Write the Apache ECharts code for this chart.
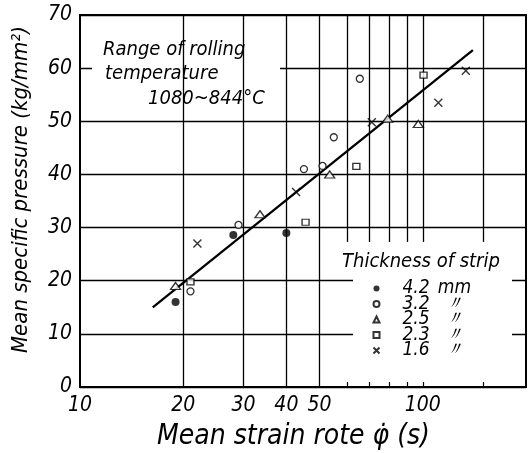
<!DOCTYPE html>
<html><head><meta charset="utf-8">
<script src="https://cdn.jsdelivr.net/npm/echarts@6/dist/echarts.min.js"></script>
<style>html,body{margin:0;padding:0;background:#fff}#c{width:529px;height:453px}</style>
</head><body><div id="c"></div>
<script>
// ---- data ----
const xLabelValues = [10, 20, 30, 40, 50, 100];
const xMinorTickValues = [60, 70, 80, 90, 100, 150];
const fullGridX = [20, 30, 40, 50];
const partialGridX = [60, 70, 80, 90, 100, 150];
const partialGridFromY = 27.3;
const yMin = 0, yMax = 70, yStep = 10;
const xMin = 10, xMax = 200;

const names = ['4.2', '3.2', '2.5', '2.3', '1.6'];
const s42 = [[19, 16], [28, 28.6], [40, 29]];
const s32 = [[21, 18], [29, 30.5], [45, 41], [51, 41.6], [55, 47], [65.5, 58]];
const s25 = [[19, 19], [33.5, 32.5], [53.5, 40], [79, 50.5], [97, 49.5]];
const s23 = [[21, 19.8], [45.5, 31], [64, 41.5], [100.5, 58.7]];
const s16 = [[22, 27], [42.7, 36.7], [71, 49.8], [111, 53.5], [133.5, 59.5]];
const fitLine = [[16.3, 15], [140, 63.4]];

const boxLines = ['Range of rolling', 'temperature', '1080~844°C'];
const legendTitle = 'Thickness of strip';
const xTitle = 'Mean strain rote φ\u0307 (s)';
const yTitle = 'Mean specific pressure (kg/mm²)';

// ---- chart ----
const FONT = '"DejaVu Sans Condensed", "DejaVu Sans", sans-serif';
const chart = echarts.init(document.getElementById('c'), null, {renderer: 'canvas'});

const gridMarks = fullGridX.map(v => ({xAxis: v}))
  .concat(partialGridX.map(v => [{coord: [v, yMax]}, {coord: [v, partialGridFromY]}]));

const openStyle = {color: '#fff', borderColor: '#000', borderWidth: 1.3};
const xPath = 'path://M0,0L10,10M10,0L0,10';
const richBase = {fontSize: 19, fontStyle: 'italic', fontFamily: FONT, lineHeight: 15, color: '#000'};

const option = {
  animation: false,
  backgroundColor: '#fff',
  grid: {left: 80, right: 3, top: 15, bottom: 66, show: true, borderColor: '#000', borderWidth: 2, backgroundColor: 'transparent'},
  xAxis: {
    type: 'log', logBase: 10, min: xMin, max: xMax,
    axisLine: {show: true, lineStyle: {color: '#000', width: 2}},
    axisTick: {show: true, inside: true, length: 5, customValues: xMinorTickValues, lineStyle: {color: '#000', width: 1.2}},
    axisLabel: {show: true, customValues: xLabelValues, color: '#000', fontSize: 21, fontStyle: 'italic', fontFamily: FONT, margin: 8},
    splitLine: {show: false}, minorTick: {show: false}, minorSplitLine: {show: false}
  },
  yAxis: {
    type: 'value', min: yMin, max: yMax, interval: yStep,
    axisLine: {show: true, lineStyle: {color: '#000', width: 2}},
    axisTick: {show: false},
    axisLabel: {color: '#000', fontSize: 21, fontStyle: 'italic', fontFamily: FONT, margin: 8},
    splitLine: {show: true, lineStyle: {color: '#000', width: 1.3}}
  },
  legend: {
    orient: 'vertical', left: 366, top: 274, itemWidth: 6, itemHeight: 6, itemGap: -3.5, z: 20,
    data: names, selectedMode: false,
    formatter: n => (n === '4.2' ? '{s|}{n|' + n + '}{u|mm}' : '{s|}{n|' + n + '}{u|〃}'),
    textStyle: Object.assign({}, richBase, {
      rich: {s: Object.assign({width: 18}, richBase), n: Object.assign({width: 37}, richBase),
             u: Object.assign({width: 30, align: 'center'}, richBase)}})
  },
  graphic: [
    {type: 'rect', z: 5, shape: {x: 92, y: 27, width: 188, height: 85}, style: {fill: '#fff'}},
    {type: 'rect', z: 5, shape: {x: 353, y: 243, width: 159, height: 138}, style: {fill: '#fff'}},
    {type: 'text', z: 30, left: 103, top: 40, style: {text: boxLines[0], fill: '#000', font: 'italic 20px ' + FONT}},
    {type: 'text', z: 30, left: 105, top: 64, style: {text: boxLines[1], fill: '#000', font: 'italic 20px ' + FONT}},
    {type: 'text', z: 30, left: 148, top: 89, style: {text: boxLines[2], fill: '#000', font: 'italic 20px ' + FONT}},
    {type: 'text', z: 30, left: 342, top: 252, style: {text: legendTitle, fill: '#000', font: 'italic 20px ' + FONT}},
    {type: 'text', z: 30, left: 157, top: 423, style: {text: xTitle, fill: '#000', font: 'italic 28px ' + FONT}},
    {type: 'text', z: 30, x: 10, y: 353, rotation: Math.PI / 2,
      style: {text: yTitle, fill: '#000', font: 'italic 22px ' + FONT, verticalAlign: 'top', align: 'left'}}
  ],
  series: [
    {type: 'line', name: 'grid', data: [], z: 1, silent: true, symbol: 'none',
      markLine: {silent: true, symbol: 'none', label: {show: false}, lineStyle: {color: '#000', width: 1.3, type: 'solid'}, data: gridMarks}},
    {type: 'line', name: 'fit', data: fitLine, z: 8, symbol: 'none', lineStyle: {color: '#000', width: 2.3}},
    {type: 'scatter', name: names[0], data: s42, z: 10, symbol: 'circle', symbolSize: 8, itemStyle: {color: '#000'}},
    {type: 'scatter', name: names[1], data: s32, z: 10, symbol: 'circle', symbolSize: 7, itemStyle: openStyle},
    {type: 'scatter', name: names[2], data: s25, z: 10, symbol: 'triangle', symbolSize: [10, 7], itemStyle: openStyle},
    {type: 'scatter', name: names[3], data: s23, z: 10, symbol: 'rect', symbolSize: [7, 6], itemStyle: openStyle},
    {type: 'scatter', name: names[4], data: s16, z: 10, symbol: xPath, symbolSize: 8, itemStyle: {color: 'none', borderColor: '#000', borderWidth: 1.4}}
  ]
};
chart.setOption(option);
</script></body></html>
